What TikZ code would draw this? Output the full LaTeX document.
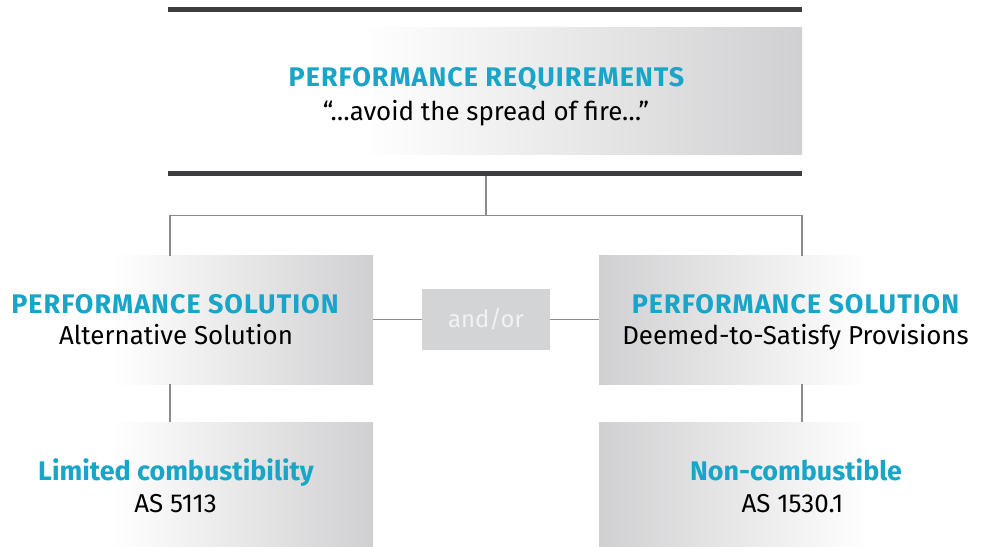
\documentclass[tikz,border=0pt]{standalone}
\usepackage{fontspec}
\setmainfont{Fira Sans}
\newfontfamily\capsfont[LetterSpace=3.8]{Fira Sans}
\definecolor{hblue}{RGB}{24,165,200}
\definecolor{bardark}{RGB}{62,62,64}
\definecolor{connc}{RGB}{140,140,140}
\definecolor{boxgray}{RGB}{208,208,210}
\definecolor{andorfill}{RGB}{211,212,214}
\definecolor{andortext}{RGB}{242,242,242}
\pgfdeclarehorizontalshading{fadeR}{100bp}{color(0bp)=(white); color(40bp)=(white); color(75bp)=(boxgray); color(100bp)=(boxgray)}
\pgfdeclarehorizontalshading{fadeL}{100bp}{color(0bp)=(boxgray); color(25bp)=(boxgray); color(60bp)=(white); color(100bp)=(white)}
\tikzset{
  box/.style={rectangle, inner sep=0pt, outer sep=0pt, anchor=north west},
  boxR/.style={box, shading=fadeR},
  boxL/.style={box, shading=fadeL},
  bar/.style={rectangle, inner sep=0pt, outer sep=0pt, fill=bardark, minimum height=5bp, minimum width=634bp},
  conn/.style={draw=connc, line width=1.5bp},
  head/.style={inner sep=0pt, anchor=base, text=hblue, font=\fontsize{27}{32}\selectfont\bfseries},
  capshead/.style={head, font=\capsfont\fontsize{27}{32}\selectfont\bfseries},
  body/.style={inner sep=0pt, anchor=base, text=black, font=\fontsize{26}{31}\selectfont},
  andorbox/.style={rectangle, inner sep=0pt, outer sep=0pt, fill=andorfill, minimum width=128bp, minimum height=61bp, text=andortext, font=\fontsize{24}{29}\selectfont}
}
\begin{document}
\begin{tikzpicture}[x=1bp, y=-1bp]
\useasboundingbox (0,0) rectangle (986,547);
% bars
\node[bar] (bar1) at (485,10) {};
\node[bar] (bar2) at (485,173.5) {};
% boxes
\node[boxR, minimum width=632bp, minimum height=127bp] (req) at (170,28) {};
\node[boxR, minimum width=373bp, minimum height=128bp] (lsol) at (0,256) {};
\node[boxL, minimum width=387bp, minimum height=128bp] (rsol) at (599,256) {};
\node[boxR, minimum width=373bp, minimum height=125bp] (lbot) at (0,422) {};
\node[boxL, minimum width=387bp, minimum height=125bp] (rbot) at (599,422) {};
\node[andorbox] (andor) at (486,319.5) {and/or};
% texts
\node[capshead] (reqh) at (486.5,86.7) {PERFORMANCE REQUIREMENTS};
\node[body] (reqb) at (486,121) {“…avoid the spread of fire…”};
\node[capshead] (lsolh) at (175,313.3) {PERFORMANCE SOLUTION};
\node[body] (lsolb) at (176,345) {Alternative Solution};
\node[capshead] (rsolh) at (795.5,313.3) {PERFORMANCE SOLUTION};
\node[body] (rsolb) at (795.5,345) {Deemed-to-Satisfy Provisions};
\node[head] (lboth) at (176,480.7) {Limited combustibility};
\node[body] (lbotb) at (175.5,512.7) {AS 5113};
\node[head] (rboth) at (796,480.7) {Non-combustible};
\node[body] (rbotb) at (792.5,512.7) {AS 1530.1};
% connectors
\coordinate (split) at (486,215.5);
\coordinate (lcol) at (170,0);
\coordinate (rcol) at (802,0);
\draw[conn] (bar2.south -| split) -- (split);
\draw[conn] (lsol.north -| lcol) |- (split) -| (rsol.north -| rcol);
\draw[conn] (lsol.south -| lcol) -- (lbot.north -| lcol);
\draw[conn] (rsol.south -| rcol) -- (rbot.north -| rcol);
\draw[conn] (lsol.east |- andor.east) -- (andor.west);
\draw[conn] (andor.east) -- (rsol.west |- andor.east);
\end{tikzpicture}
\end{document}
